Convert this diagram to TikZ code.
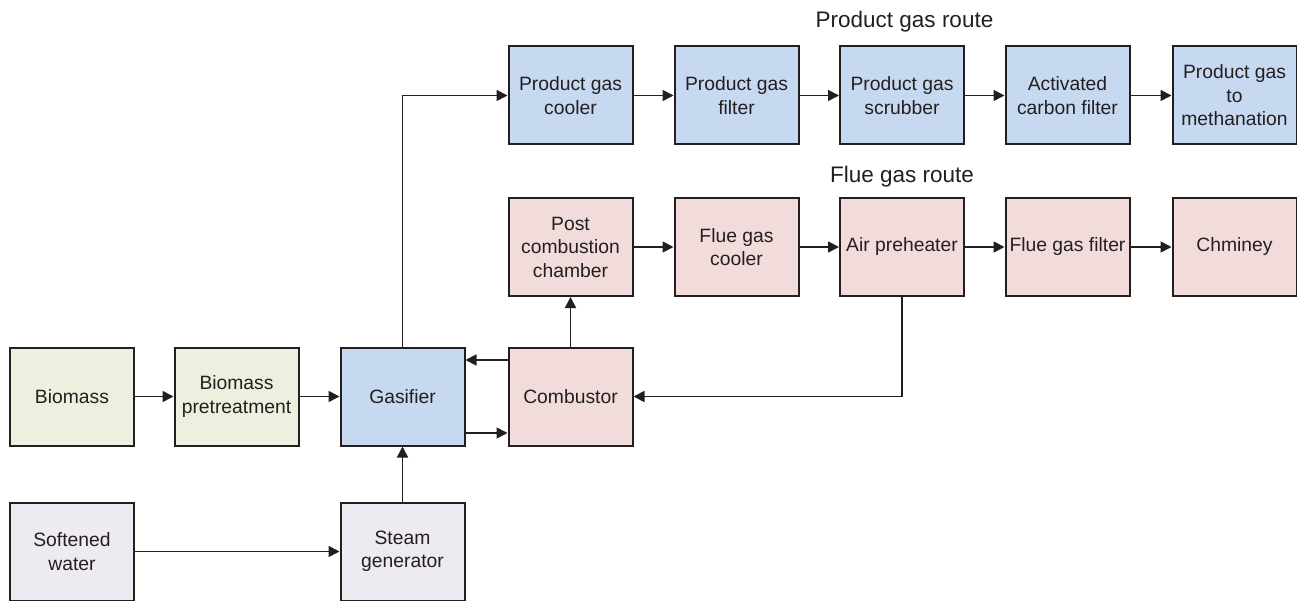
\documentclass[tikz,border=0pt]{standalone}
\usepackage{fontspec}
\setmainfont{Liberation Sans}
\usetikzlibrary{arrows.meta}
\definecolor{ink}{HTML}{231F20}
\definecolor{feedgreen}{HTML}{EBF1DE}
\definecolor{gasblue}{HTML}{C6D9F0}
\definecolor{fluepink}{HTML}{F2DCDB}
\definecolor{waterlilac}{HTML}{EDEAF1}
\begin{document}
\begin{tikzpicture}[x=1pt,y=-1pt,
  unit/.style={draw=ink,line width=2pt,minimum width=124pt,minimum height=98pt,
    align=center,text=ink,font=\fontsize{19.3}{23.5}\selectfont},
  feed/.style={unit,fill=feedgreen},
  gas/.style={unit,fill=gasblue},
  flue/.style={unit,fill=fluepink},
  water/.style={unit,fill=waterlilac},
  flow/.style={draw=ink,line width=1.7pt,-{Triangle[length=11pt,width=11pt]}},
  route/.style={text=ink,font=\fontsize{22.5}{27}\selectfont}]
  \useasboundingbox (0,0) rectangle (1297,601);
  \node[feed] (biomass) at (72,396.5) {Biomass};
  \node[feed] (pretreat) at (236.5,396.5) {Biomass\\pretreatment};
  \node[gas] (gasifier) at (402.5,396.5) {Gasifier};
  \node[flue] (combustor) at (570.5,396.5) {Combustor};
  \node[water] (water) at (72,551.5) {Softened\\water};
  \node[water] (steam) at (402.5,551.5) {Steam\\generator};
  \node[gas] (pgcooler) at (570.5,95.5) {Product gas\\cooler};
  \node[gas] (pgfilter) at (736.5,95.5) {Product gas\\filter};
  \node[gas] (scrubber) at (902,95.5) {Product gas\\scrubber};
  \node[gas] (carbon) at (1067.5,95.5) {Activated\\carbon filter};
  \node[gas] (methanation) at (1234.5,95.5) {Product gas\\to\\methanation};
  \node[flue] (postcomb) at (570.5,247) {Post\\combustion\\chamber};
  \node[flue] (fgcooler) at (736.5,247) {Flue gas\\cooler};
  \node[flue] (airpre) at (902,247) {Air preheater};
  \node[flue] (fgfilter) at (1067.5,247) {Flue gas filter};
  \node[flue] (chimney) at (1234.5,247) {Chminey};
  \node[route] (pgroute) at (904.5,22) {Product gas route};
  \node[route] (fgroute) at (902,177) {Flue gas route};
  \draw[flow] (biomass) -- (pretreat);
  \draw[flow] (pretreat) -- (gasifier);
  \draw[flow] (water) -- (steam);
  \draw[flow] (steam) -- (gasifier);
  \draw[flow] (gasifier.north) |- (pgcooler.west);
  \draw[flow] (pgcooler) -- (pgfilter);
  \draw[flow] (pgfilter) -- (scrubber);
  \draw[flow] (scrubber) -- (carbon);
  \draw[flow] (carbon) -- (methanation);
  \draw[flow] ([yshift=36.5pt]combustor.west) -- ([yshift=36.5pt]gasifier.east);
  \draw[flow] ([yshift=-36.5pt]gasifier.east) -- ([yshift=-36.5pt]combustor.west);
  \draw[flow] (combustor) -- (postcomb);
  \draw[flow] (postcomb) -- (fgcooler);
  \draw[flow] (fgcooler) -- (airpre);
  \draw[flow] (airpre) -- (fgfilter);
  \draw[flow] (fgfilter) -- (chimney);
  \draw[flow] (airpre.south) |- (combustor.east);
\end{tikzpicture}
\end{document}
